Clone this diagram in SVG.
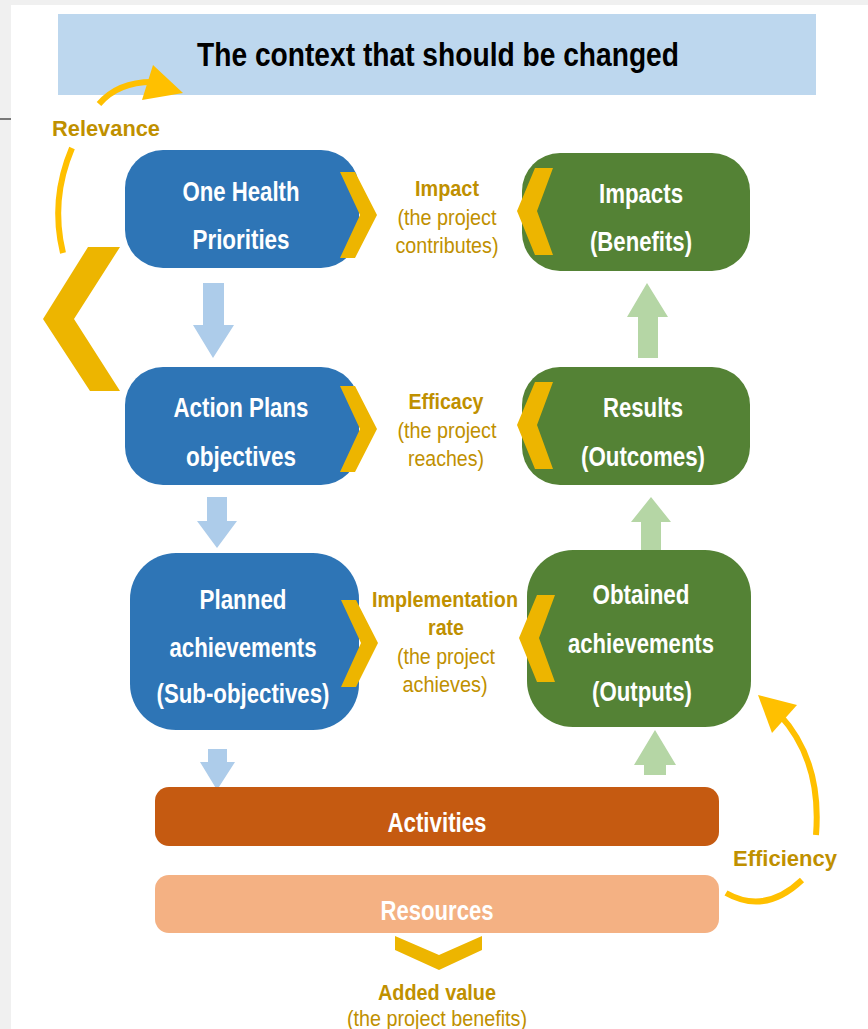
<svg xmlns="http://www.w3.org/2000/svg" width="868" height="1029" viewBox="0 0 868 1029">
<style>
text{font-family:"Liberation Sans",Arial,sans-serif;text-anchor:middle}
.nt{fill:#fff;font-weight:bold;font-size:27px}
.gl{fill:#BF9000;font-size:22px}
.gb{fill:#BF9000;font-size:22px;font-weight:bold}
.blue{fill:#2E75B6}
.green{fill:#548235}
.chev{fill:#EDB500}
.ba{fill:#ADCCEA}
.ga{fill:#B5D6A5}
.arc{fill:none;stroke:#FFC000;stroke-width:6}
</style>
<rect x="0" y="0" width="868" height="1029" fill="#F0F0F0"/>
<rect x="11" y="5" width="857" height="1024" fill="#FFFFFF"/>
<line x1="0" y1="119" x2="11" y2="119" stroke="#000" stroke-width="1"/>

<g id="context">
<rect x="58" y="14" width="758" height="81" fill="#BDD7EE"/>
<text x="438" y="66" font-size="34" font-weight="bold" fill="#000" textLength="482" lengthAdjust="spacingAndGlyphs">The context that should be changed</text>
</g>

<g id="connectors">
<path class="arc" d="M99,104 Q118,82 152,82"/>
<polygon points="153,65 183,93 142,100" fill="#FFC000"/>
<path class="arc" d="M72,148 Q50,200 63,253"/>
<polygon class="chev" points="88,247 120,247 74,319 120,391 90,391 43,319"/>
<path class="arc" d="M726,893 Q765,915 802,880"/>
<path class="arc" d="M816,835 Q822,760 779,714"/>
<polygon points="758,695 797,705 772,733" fill="#FFC000"/>
<polygon class="ba" points="203,283 224,283 224,325 234,325 213,358 193,325 203,325"/>
<polygon class="ba" points="207,497 227,497 227,521 237,521 217,548 197,521 207,521"/>
<polygon class="ba" points="208,749 227,749 227,762 235,762 217,790 200,762 208,762"/>
<polygon class="ga" points="638,358 658,358 658,317 668,317 647,283 627,317 638,317"/>
<polygon class="ga" points="641,550 661,550 661,522 671,522 651,497 631,522 641,522"/>
<polygon class="ga" points="644,775 666,775 666,765 676,765 655,730 634,765 644,765"/>
<polygon class="chev" points="395,936 439,955 482,936 482,950 439,970 395,950"/>
</g>

<g id="one-health">
<rect class="blue" x="125" y="150" width="234" height="118" rx="38"/>
<polygon class="chev" points="340,172 355,172 377,215 355,258 340,258 360,215"/>
<text class="nt" x="241" y="201" textLength="117" lengthAdjust="spacingAndGlyphs">One Health</text>
<text class="nt" x="241" y="249" textLength="97" lengthAdjust="spacingAndGlyphs">Priorities</text>
</g>

<g id="action-plans">
<rect class="blue" x="125" y="367" width="234" height="118" rx="38"/>
<polygon class="chev" points="340,386 355,386 377,429 355,472 340,472 360,429"/>
<text class="nt" x="241" y="417" textLength="135" lengthAdjust="spacingAndGlyphs">Action Plans</text>
<text class="nt" x="241" y="466" textLength="110" lengthAdjust="spacingAndGlyphs">objectives</text>
</g>

<g id="planned">
<rect class="blue" x="130" y="553" width="229" height="177" rx="46"/>
<polygon class="chev" points="341,600 356,600 378,643 356,687 341,687 361,643"/>
<text class="nt" x="243" y="609" textLength="87" lengthAdjust="spacingAndGlyphs">Planned</text>
<text class="nt" x="243" y="657" textLength="147" lengthAdjust="spacingAndGlyphs">achievements</text>
<text class="nt" x="243" y="703" textLength="173" lengthAdjust="spacingAndGlyphs">(Sub-objectives)</text>
</g>

<g id="impacts">
<rect class="green" x="522" y="153" width="228" height="118" rx="38"/>
<polygon class="chev" points="553,168 535,168 517,211 535,255 553,255 537,211"/>
<text class="nt" x="641" y="203" textLength="84" lengthAdjust="spacingAndGlyphs">Impacts</text>
<text class="nt" x="641" y="251" textLength="102" lengthAdjust="spacingAndGlyphs">(Benefits)</text>
</g>

<g id="results">
<rect class="green" x="522" y="367" width="228" height="118" rx="38"/>
<polygon class="chev" points="553,382 535,382 517,425 535,469 553,469 537,425"/>
<text class="nt" x="643" y="417" textLength="80" lengthAdjust="spacingAndGlyphs">Results</text>
<text class="nt" x="643" y="466" textLength="124" lengthAdjust="spacingAndGlyphs">(Outcomes)</text>
</g>

<g id="obtained">
<rect class="green" x="527" y="550" width="224" height="177" rx="46"/>
<polygon class="chev" points="555,595 537,595 519,638 537,682 555,682 539,638"/>
<text class="nt" x="641" y="604" textLength="97" lengthAdjust="spacingAndGlyphs">Obtained</text>
<text class="nt" x="641" y="653" textLength="146" lengthAdjust="spacingAndGlyphs">achievements</text>
<text class="nt" x="642" y="701" textLength="100" lengthAdjust="spacingAndGlyphs">(Outputs)</text>
</g>

<g id="activities">
<rect x="155" y="787" width="564" height="59" rx="14" fill="#C55A11"/>
<text class="nt" x="437" y="832" textLength="99" lengthAdjust="spacingAndGlyphs">Activities</text>
</g>

<g id="resources">
<rect x="155" y="875" width="564" height="58" rx="14" fill="#F4B183"/>
<text class="nt" x="437" y="920" textLength="113" lengthAdjust="spacingAndGlyphs">Resources</text>
</g>

<g id="label-impact">
<text class="gb" x="447" y="196" textLength="64" lengthAdjust="spacingAndGlyphs">Impact</text>
<text class="gl" x="447" y="225" textLength="99" lengthAdjust="spacingAndGlyphs">(the project</text>
<text class="gl" x="447" y="253" textLength="103" lengthAdjust="spacingAndGlyphs">contributes)</text>
</g>
<g id="label-efficacy">
<text class="gb" x="446" y="409" textLength="75" lengthAdjust="spacingAndGlyphs">Efficacy</text>
<text class="gl" x="447" y="438" textLength="99" lengthAdjust="spacingAndGlyphs">(the project</text>
<text class="gl" x="446" y="466" textLength="76" lengthAdjust="spacingAndGlyphs">reaches)</text>
</g>
<g id="label-implementation">
<text class="gb" x="445" y="607" textLength="146" lengthAdjust="spacingAndGlyphs">Implementation</text>
<text class="gb" x="446" y="635" textLength="36" lengthAdjust="spacingAndGlyphs">rate</text>
<text class="gl" x="446" y="664" textLength="98" lengthAdjust="spacingAndGlyphs">(the project</text>
<text class="gl" x="445" y="692" textLength="85" lengthAdjust="spacingAndGlyphs">achieves)</text>
</g>
<g id="label-relevance">
<text class="gb" x="106" y="136" textLength="108" lengthAdjust="spacingAndGlyphs">Relevance</text>
</g>
<g id="label-efficiency">
<text class="gb" x="785" y="866" textLength="104" lengthAdjust="spacingAndGlyphs">Efficiency</text>
</g>
<g id="label-added-value">
<text class="gb" x="437" y="1000" textLength="118" lengthAdjust="spacingAndGlyphs">Added value</text>
<text class="gl" x="437" y="1026" textLength="180" lengthAdjust="spacingAndGlyphs">(the project benefits)</text>
</g>
</svg>
